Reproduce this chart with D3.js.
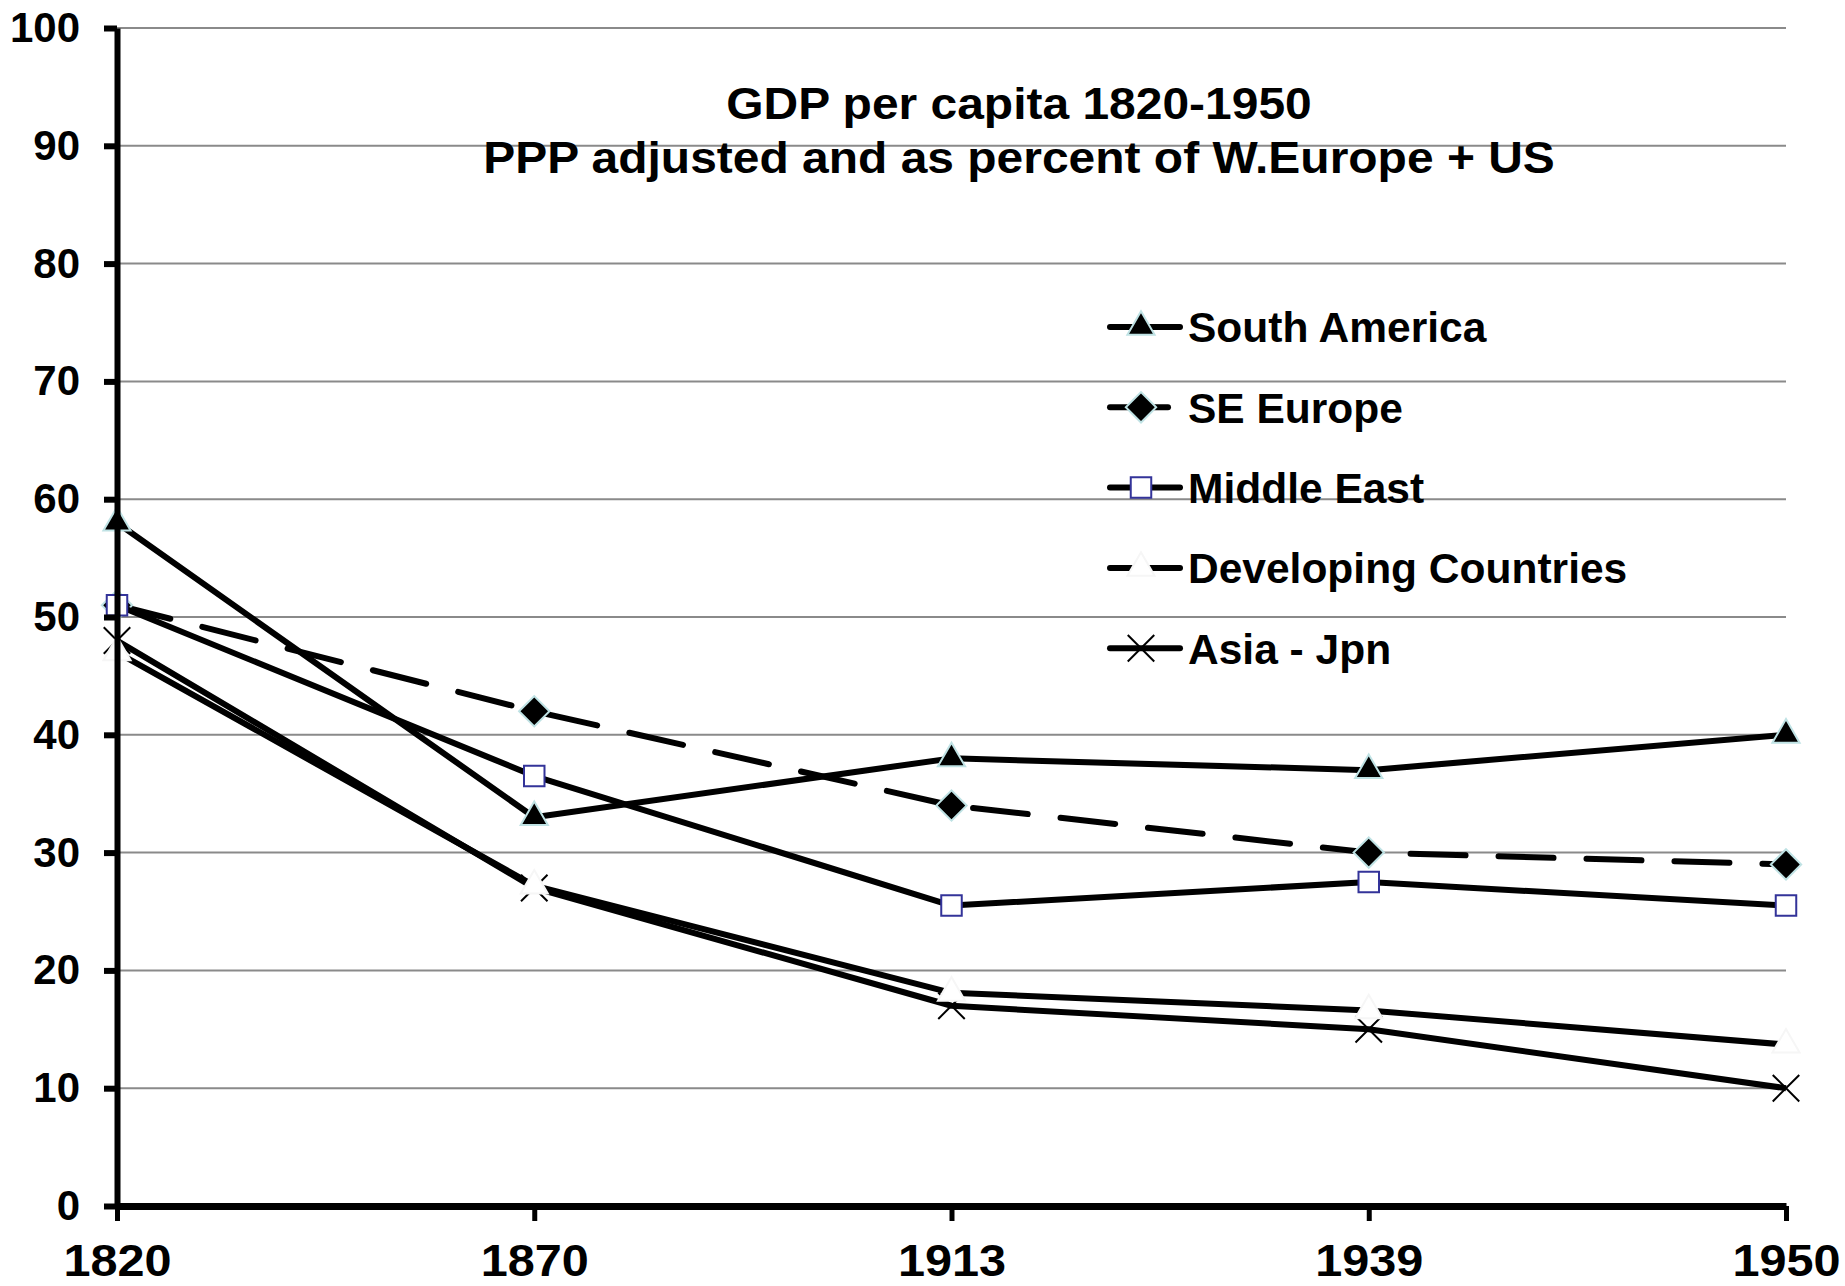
<!DOCTYPE html>
<html>
<head>
<meta charset="utf-8">
<script src="https://cdn.jsdelivr.net/npm/d3@7"></script>
<style>
  html, body { margin: 0; padding: 0; background: #fff; }
  svg { display: block; font-family: "Liberation Sans", Arial, sans-serif; font-weight: bold; }
</style>
</head>
<body>
<div id="chart"></div>
<script>
// GDP per capita 1820-1950 as percent of W.Europe + US, five regions

const years = ['1820', '1870', '1913', '1939', '1950'];
const yTicks = [0, 10, 20, 30, 40, 50, 60, 70, 80, 90, 100];
const titleLines = ['GDP per capita 1820-1950', 'PPP adjusted and as percent of W.Europe + US'];

const southAmerica = [58, 33, 38, 37, 40];
const seEurope = [51, 42, 34, 30, 29];
const middleEast = [51, 36.5, 25.5, 27.5, 25.5];
const developing = [47, 27.2, 18.1, 16.6, 13.7];
const asiaExJapan = [48, 27, 17, 15, 10];

const legendNames = ['South America', 'SE Europe', 'Middle East', 'Developing Countries', 'Asia - Jpn'];

const W = 1845, H = 1286;
const plot = { left: 117, right: 1786, top: 28, bottom: 1206 };
// the source picture is a little wider than tall in its lettering
const STRETCH = 1.08;

const series = [
    { name: legendNames[0], values: southAmerica, marker: 'triangle' },
    { name: legendNames[1], values: seEurope, marker: 'diamond', dash: '55 33' },
    { name: legendNames[2], values: middleEast, marker: 'square' },
    { name: legendNames[3], values: developing, marker: 'whiteTriangle' },
    { name: legendNames[4], values: asiaExJapan, marker: 'x' },
];
// plotting order: Asia first, white triangles last
const drawOrder = [4, 0, 1, 2, 3];

const svg = d3.select('#chart').append('svg').attr('width', W).attr('height', H);
svg.append('rect').attr('width', W).attr('height', H).attr('fill', '#fff');

const x = d3.scalePoint().domain(years).range([plot.left, plot.right]);
const y = d3.scaleLinear().domain([0, 100]).range([plot.bottom, plot.top]);

// gridlines
svg.append('g').selectAll('line').data(yTicks.filter((t) => t > 0)).join('line')
    .attr('x1', plot.left).attr('x2', plot.right)
    .attr('y1', (d) => y(d)).attr('y2', (d) => y(d))
    .attr('stroke', '#8a8a8a').attr('stroke-width', 2);

const drawMarker = (sel, kind) => {
    if (kind === 'triangle' || kind === 'whiteTriangle') {
        sel.append('path')
            .attr('d', d3.symbol(d3.symbolTriangle, 320)())
            .attr('fill', kind === 'triangle' ? '#000' : '#fff')
            .attr('stroke', kind === 'triangle' ? '#bfe2e4' : '#f6f6f6')
            .attr('stroke-width', 2);
    } else if (kind === 'diamond') {
        sel.append('path')
            .attr('d', d3.symbol(d3.symbolSquare, 460)())
            .attr('transform', 'rotate(45)')
            .attr('fill', '#000').attr('stroke', '#bfe2e4').attr('stroke-width', 2);
    } else if (kind === 'square') {
        sel.append('path')
            .attr('d', d3.symbol(d3.symbolSquare, 420)())
            .attr('fill', '#fff').attr('stroke', '#333399').attr('stroke-width', 2);
    } else if (kind === 'x') {
        sel.append('path')
            .attr('d', d3.symbol(d3.symbolTimes, 460)())
            .attr('fill', 'none').attr('stroke', '#000').attr('stroke-width', 2);
    }
};

const line = d3.line().x((d, i) => x(years[i])).y((d) => y(d));
const marks = svg.append('g');

drawOrder.forEach((idx) => {
    const s = series[idx];
    const g = marks.append('g');
    g.append('path').datum(s.values)
        .attr('d', line)
        .attr('fill', 'none').attr('stroke', '#000').attr('stroke-width', 6)
        .attr('stroke-linejoin', 'round')
        .attr('stroke-linecap', s.dash ? 'round' : 'butt')
        .attr('stroke-dasharray', s.dash || null);
    g.selectAll('g.pt').data(s.values).join('g')
        .attr('class', 'pt')
        .attr('transform', (d, i) => `translate(${x(years[i])},${y(d)})`)
        .each(function () { drawMarker(d3.select(this), s.marker); });
});

// y axis
const yAxis = svg.append('g').attr('transform', `translate(${plot.left},0)`)
    .call(d3.axisLeft(y).tickValues(yTicks).tickSize(13).tickSizeOuter(0).tickPadding(24));
yAxis.select('.domain').attr('stroke', '#000').attr('stroke-width', 6);
yAxis.selectAll('.tick line').attr('stroke', '#000').attr('stroke-width', 6);
yAxis.selectAll('.tick text').attr('fill', '#000')
    .style('font-size', '42px').style('font-weight', 'bold')
    .style('font-family', '"Liberation Sans", Arial, sans-serif');

// x axis
const xAxis = svg.append('g').attr('transform', `translate(0,${plot.bottom})`)
    .call(d3.axisBottom(x).tickSize(15).tickSizeOuter(0));
xAxis.select('.domain').attr('stroke', '#000').attr('stroke-width', 7);
xAxis.selectAll('.tick line').attr('stroke', '#000').attr('stroke-width', 5);
xAxis.selectAll('.tick text').attr('fill', '#000')
    .attr('y', 70).attr('dy', null)
    .attr('transform', `scale(${STRETCH},1)`)
    .style('font-size', '45px').style('font-weight', 'bold')
    .style('font-family', '"Liberation Sans", Arial, sans-serif');

// title
svg.append('g').selectAll('text').data(titleLines).join('text')
    .attr('transform', (d, i) => `translate(1019,${119 + i * 54}) scale(1.09,1)`)
    .attr('text-anchor', 'middle')
    .style('font-size', '44px')
    .text((d) => d);

// legend
const legend = svg.append('g');
const rowY = (i) => 327 + i * 80.3;
series.forEach((s, i) => {
    const row = legend.append('g').attr('transform', `translate(0,${rowY(i)})`);
    row.append('line')
        .attr('x1', 1110).attr('x2', s.dash ? 1168 : 1180)
        .attr('stroke', '#000').attr('stroke-width', 6).attr('stroke-linecap', 'round');
    const m = row.append('g').attr('transform', 'translate(1141,0)');
    drawMarker(m, s.marker);
    row.append('text').attr('x', 1188).attr('dy', '0.36em')
        .style('font-size', '42.5px')
        .text(s.name);
});
</script>
</body>
</html>
